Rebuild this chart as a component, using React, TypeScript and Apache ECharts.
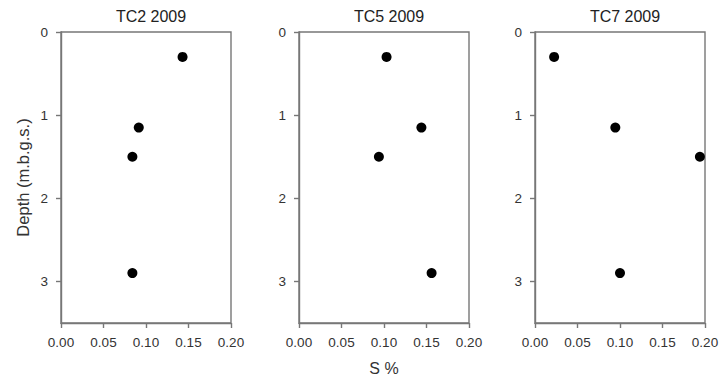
import React, { useEffect, useRef } from "react";
import * as echarts from "echarts";

const panelTitles = ["TC2 2009", "TC5 2009", "TC7 2009"];
const depths = [0.3, 1.15, 1.5, 2.9];
const tc2S = [0.143, 0.0915, 0.084, 0.084];
const tc5S = [0.103, 0.144, 0.094, 0.156];
const tc7S = [0.0225, 0.0945, 0.194, 0.1];
const xTicks = [0, 0.05, 0.1, 0.15, 0.2];
const yTicks = [0, 1, 2, 3];
const yAxisName = "Depth (m.b.g.s.)";
const xAxisName = "S %";

const seriesValues = [tc2S, tc5S, tc7S];

export default function App() {
  const ref = useRef<HTMLDivElement>(null);
  useEffect(() => {
    if (!ref.current) return;
    const chart = echarts.init(ref.current, null, { renderer: "svg" });
    const lefts = [61, 299, 535];
    const gridW = 170;
    const top = 32;
    const height = 291;
    const axisColor = "#777";
    const lineW = 1.4;
    const labelColor = "#333";
    const font = "Arial, 'Liberation Sans', sans-serif";

    const grids = lefts.map((l) => ({
      left: l,
      top,
      width: gridW,
      height,
      show: true,
      borderColor: axisColor,
      borderWidth: lineW,
      backgroundColor: "transparent",
    }));

    const xAxes = lefts.map((_, i) => ({
      type: "value",
      gridIndex: i,
      min: 0,
      max: 0.2,
      interval: 0.05,
      splitLine: { show: false },
      axisLine: { show: true, onZero: false, lineStyle: { color: axisColor, width: lineW } },
      axisTick: { show: true, length: 5, inside: false, lineStyle: { color: axisColor, width: lineW } },
      axisLabel: {
        margin: 12,
        color: labelColor,
        fontSize: 13.5,
        fontFamily: font,
        formatter: (v: number) => v.toFixed(2),
      },
      name: i === 1 ? xAxisName : "",
      nameLocation: "middle",
      nameGap: 37,
      nameMoveOverlap: false,
      nameTextStyle: { color: labelColor, fontSize: 16, fontFamily: font },
    }));

    const yAxes = lefts.map((_, i) => ({
      type: "value",
      gridIndex: i,
      inverse: true,
      min: 0,
      max: 3.5,
      interval: 1,
      splitLine: { show: false },
      axisLine: { show: true, onZero: false, lineStyle: { color: axisColor, width: lineW } },
      axisTick: {
        show: true,
        length: 5,
        inside: false,
        customValues: yTicks,
        lineStyle: { color: axisColor, width: lineW },
      },
      axisLabel: {
        margin: 13,
        color: labelColor,
        fontSize: 13.5,
        fontFamily: font,
        showMaxLabel: false,
        formatter: (v: number) => (yTicks.indexOf(v) >= 0 ? String(v) : ""),
      },
      name: i === 0 ? yAxisName : "",
      nameLocation: "middle",
      nameGap: 30,
      nameMoveOverlap: false,
      nameTextStyle: { color: labelColor, fontSize: 16.5, fontFamily: font },
    }));

    const titles = lefts.map((l, i) => ({
      text: panelTitles[i],
      left: l + gridW / 2,
      top: 3,
      textAlign: "center",
      textStyle: { color: "#222", fontSize: 16, fontWeight: "normal", fontFamily: font },
    }));

    const series = seriesValues.map((vals, i) => ({
      type: "scatter",
      xAxisIndex: i,
      yAxisIndex: i,
      symbol: "circle",
      symbolSize: 10,
      itemStyle: { color: "#000", opacity: 1 },
      data: vals.map((v, j) => [v, depths[j]]),
    }));

    chart.setOption({
      animation: false,
      backgroundColor: "#fff",
      title: titles,
      grid: grids,
      xAxis: xAxes,
      yAxis: yAxes,
      series,
    });
    return () => chart.dispose();
  }, []);
  return (
    <div
      ref={ref}
      style={{ position: "fixed", left: 0, top: 0, width: 723, height: 387 }}
    />
  );
}
